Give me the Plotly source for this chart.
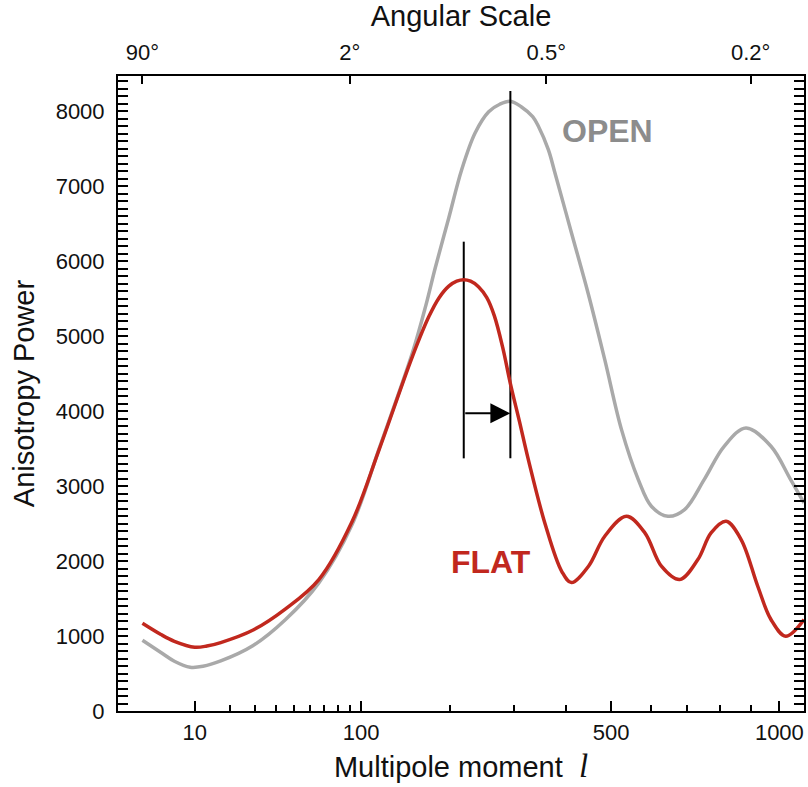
import numpy as np
import plotly.graph_objects as go

# Anisotropy power spectrum for a flat and an open universe
ell_flat = [2, 4, 6, 10, 13, 17, 29, 45, 66, 92, 117, 153, 173, 186, 199, 210,
            220, 230, 242, 255, 267, 281, 294, 310, 326, 358, 391, 411, 448,
            485, 537, 584, 628, 679, 732, 772, 819, 868, 924, 970, 1023, 1091]
power_flat = [1170, 1020, 930, 851, 867, 913, 1080, 1362, 1753, 2527, 3487,
              4731, 5264, 5513, 5667, 5733, 5753, 5733, 5660, 5513, 5273, 4847,
              4367, 3860, 3353, 2487, 1860, 1713, 1931, 2331, 2597, 2376, 1931,
              1753, 2020, 2376, 2531, 2287, 1664, 1220, 997, 1220]

ell_open = [2, 4, 6, 9, 12, 17, 29, 45, 66, 92, 117, 153, 169, 181, 199, 217,
            237, 258, 276, 294, 313, 334, 345, 364, 377, 411, 448, 485, 525,
            567, 601, 646, 693, 751, 813, 884, 970, 1041, 1091]
power_open = [944, 780, 664, 584, 596, 667, 873, 1220, 1709, 2487, 3500, 4780,
              5407, 5913, 6580, 7220, 7713, 7993, 8093, 8133, 8060, 7927, 7797,
              7487, 7180, 6380, 5553, 4687, 3753, 3087, 2731, 2597, 2687, 3087,
              3531, 3776, 3531, 3087, 2776]

# Axis ticks
major_ell = [10, 100, 500, 1000]
minor_ell = [20, 30, 40, 50, 60, 70, 80, 90, 200, 300, 400, 600, 700, 800, 900]
angle_deg = [90, 2, 0.5, 0.2]
power_ticks = [0, 1000, 2000, 3000, 4000, 5000, 6000, 7000, 8000]

# The multipole axis is stretched as ell**0.4
EXP = 0.4


def sx(ell):
    return np.asarray(ell, dtype=float) ** EXP


ELL_MIN, ELL_MAX = 0.507, 1091
POWER_MAX = 8470
x_range = [float(sx(ELL_MIN)), float(sx(ELL_MAX))]

FONT = "Liberation Sans, Arial, Helvetica, sans-serif"
INK = "#111111"
RED = "#c1281e"
GREY = "#a9a9a9"

peak_flat = ell_flat[int(np.argmax(power_flat))]
peak_open = ell_open[int(np.argmax(power_open))]
marker_bottom = 3370
arrow_level = 3970

fig = go.Figure()

fig.add_trace(go.Scatter(
    x=sx(ell_open), y=power_open, mode="lines",
    line=dict(color=GREY, width=3.5, shape="spline", smoothing=1.0),
    hoverinfo="skip", showlegend=False))

for ell_peak, top in [(peak_flat, 6260), (peak_open, 8270)]:
    fig.add_trace(go.Scatter(
        x=sx([ell_peak, ell_peak]), y=[marker_bottom, top], mode="lines",
        line=dict(color="black", width=2),
        hoverinfo="skip", showlegend=False))

fig.add_trace(go.Scatter(
    x=sx(ell_flat), y=power_flat, mode="lines",
    line=dict(color=RED, width=3.5, shape="spline", smoothing=1.0),
    hoverinfo="skip", showlegend=False))

# empty trace so the angular-scale axis on top is drawn
fig.add_trace(go.Scatter(x=[], y=[], xaxis="x2", yaxis="y",
                         hoverinfo="skip", showlegend=False))

# Shift of the first acoustic peak
fig.add_annotation(
    x=float(sx(peak_open)), y=arrow_level,
    ax=float(sx(peak_flat)), ay=arrow_level,
    xref="x", yref="y", axref="x", ayref="y",
    text="", showarrow=True, arrowhead=2, arrowsize=2.0,
    arrowwidth=2, arrowcolor="black", standoff=0)

fig.add_annotation(
    x=float(sx(492)), y=7740, xref="x", yref="y", text="<b>OPEN</b>",
    showarrow=False, font=dict(family=FONT, size=32, color="#8c8c8c"))
fig.add_annotation(
    x=float(sx(262)), y=1990, xref="x", yref="y", text="<b>FLAT</b>",
    showarrow=False, font=dict(family=FONT, size=32, color=RED))

axis_common = dict(
    showline=True, linewidth=2, linecolor="black", showgrid=False,
    zeroline=False, ticks="inside", tickwidth=2, tickcolor="black",
    tickfont=dict(family=FONT, size=22, color=INK))

fig.update_layout(
    width=808, height=787,
    margin=dict(l=118, r=2, t=76, b=76),
    paper_bgcolor="white", plot_bgcolor="white",
    xaxis=dict(
        range=x_range, tickmode="array",
        tickvals=sx(major_ell), ticktext=[str(v) for v in major_ell],
        ticklen=10, ticklabelstandoff=1,
        minor=dict(tickmode="array", tickvals=sx(minor_ell), ticks="inside",
                   ticklen=6, tickwidth=2, tickcolor="black"),
        title=dict(
            text='Multipole moment  <span style="font-family:Liberation Serif;'
                 'font-style:italic;font-size:33px">l</span>',
            font=dict(family=FONT, size=29, color=INK), standoff=12),
        **axis_common),
    xaxis2=dict(
        overlaying="x", side="top", anchor="y",
        range=x_range, tickmode="array",
        tickvals=sx([180.0 / a for a in angle_deg]),
        ticktext=[f"{a:g}°" for a in angle_deg],
        ticklen=8, ticklabelstandoff=5,
        title=dict(text="Angular Scale",
                   font=dict(family=FONT, size=29, color=INK),
                   standoff=6),
        **axis_common),
    yaxis=dict(
        range=[0, POWER_MAX], tickmode="array", tickvals=power_ticks,
        ticklen=10, mirror="allticks", ticklabelstandoff=7,
        minor=dict(dtick=100, ticks="inside", ticklen=5, tickwidth=1.5,
                   tickcolor="black"),
        title=dict(text="Anisotropy Power",
                   font=dict(family=FONT, size=29, color=INK),
                   standoff=12),
        **axis_common),
)

fig.write_html("out.html")
